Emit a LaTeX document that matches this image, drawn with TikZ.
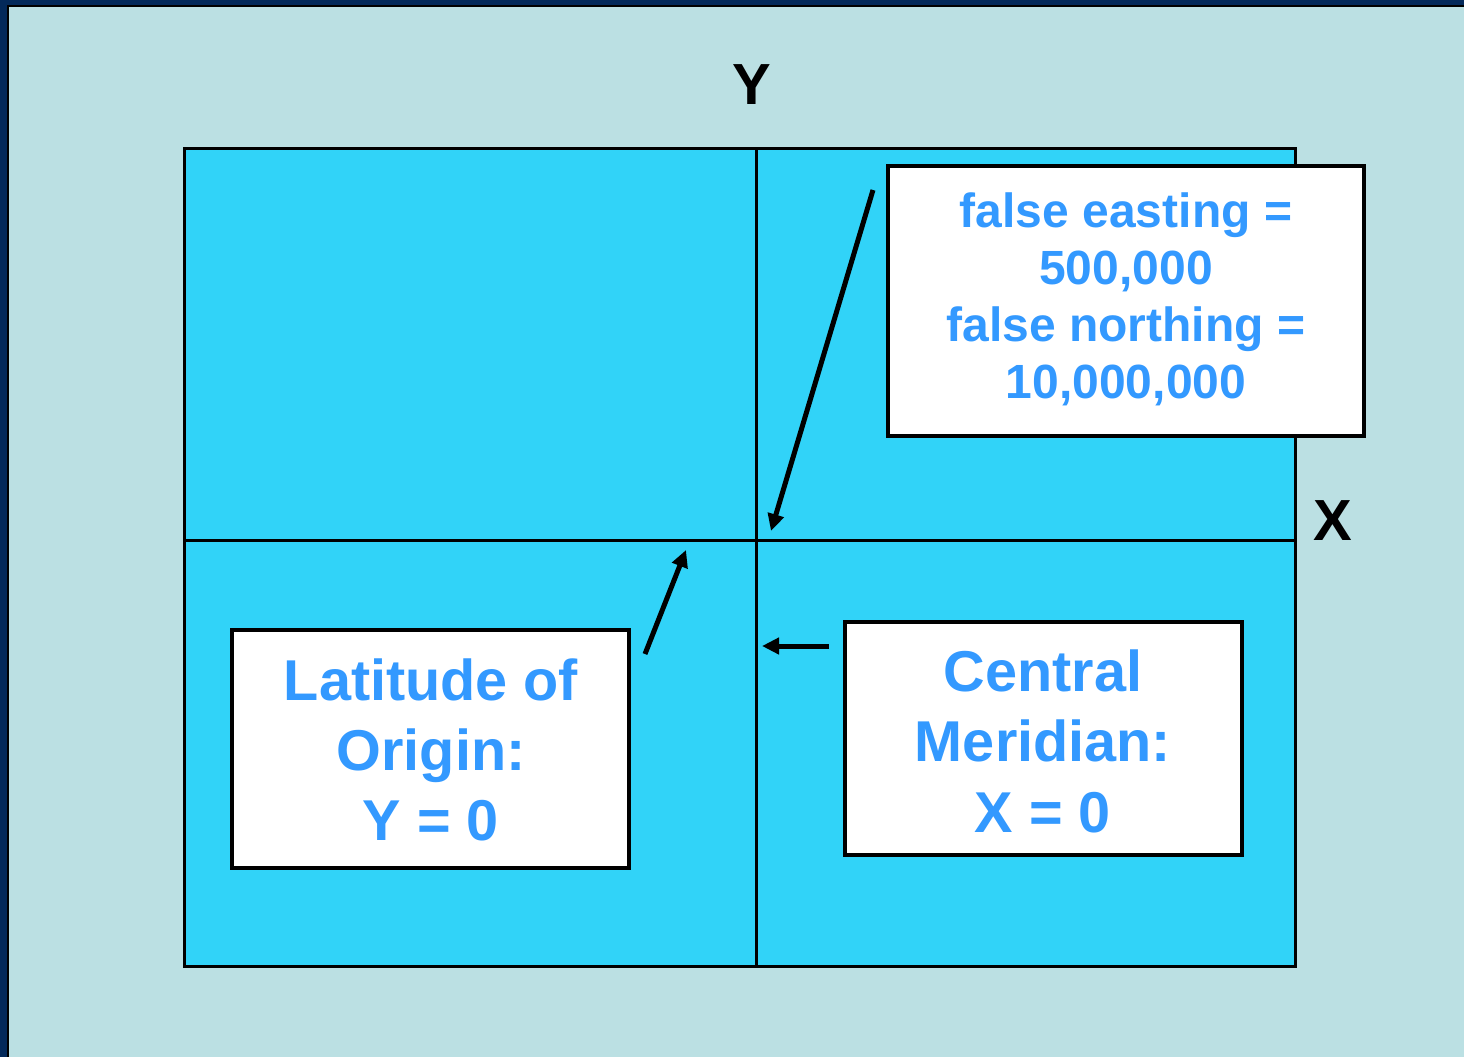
\documentclass[tikz,border=0pt]{standalone}
\usepackage{fontspec}
\setmainfont{Liberation Sans}
\usetikzlibrary{arrows.meta}
\definecolor{navy}{HTML}{03295A}
\definecolor{bgpale}{HTML}{BBE0E3}
\definecolor{mapcyan}{HTML}{31D3F8}
\definecolor{txtblue}{HTML}{3399FF}
\tikzset{
  labelbox/.style={draw=black, line width=2pt, fill=white},
  boxtext/.style={text=txtblue, font=\bfseries, align=center, inner sep=0pt},
  axislabel/.style={font=\bfseries\fontsize{29}{34}\selectfont, inner sep=0pt},
  pointer/.style={line width=2.5pt, -{Triangle[length=8.5pt,width=8pt]}},
}
\begin{document}
\begin{tikzpicture}[x=0.5pt,y=-0.5pt]
\useasboundingbox (0,0) rectangle (1464,1057);
% background
\fill[navy] (0,0) rectangle (1464,1057);
\fill[black] (7,5) rectangle (1464,1057);
\fill[bgpale] (9,7) rectangle (1464,1057);
% map
\draw[fill=mapcyan, line width=1.5pt] (184,148) rectangle (1295,966);
\coordinate (vt) at (756,148);
\coordinate (vb) at (756,966);
\coordinate (hl) at (184,540);
\coordinate (hr) at (1295,540);
\draw[line width=1.5pt] (vt) -- (vb);
\draw[line width=1.5pt] (hl) -- (hr);
% axis labels
\node[axislabel] (ylab) at (752,85) {Y};
\node[axislabel] (xlab) at (1333,521) {X};
% boxes
\draw[labelbox] (888,166) rectangle (1364,436);
\node[boxtext, font=\bfseries\fontsize{24}{28.5}\selectfont] (fe) at (1126,299) {false easting =\\500,000\\false northing =\\10,000,000};
\draw[labelbox] (232,630) rectangle (629,868);
\node[boxtext, font=\bfseries\fontsize{28.8}{35}\selectfont] (lo) at (431,750) {Latitude of\\Origin:\\Y = 0};
\draw[labelbox] (845,622) rectangle (1242,855);
\node[boxtext, font=\bfseries\fontsize{28.8}{35.2}\selectfont] (cm) at (1043,741) {Central\\Meridian:\\X = 0};
% arrows
\coordinate (a1s) at (873,190);
\coordinate (a1e) at (771,531);
\coordinate (a2s) at (645,654);
\coordinate (a2e) at (686,550);
\coordinate (a3s) at (829,646);
\coordinate (a3e) at (762,646);
\draw[pointer] (a1s) -- (a1e);
\draw[pointer] (a2s) -- (a2e);
\draw[pointer] (a3s) -- (a3e);
\end{tikzpicture}
\end{document}
